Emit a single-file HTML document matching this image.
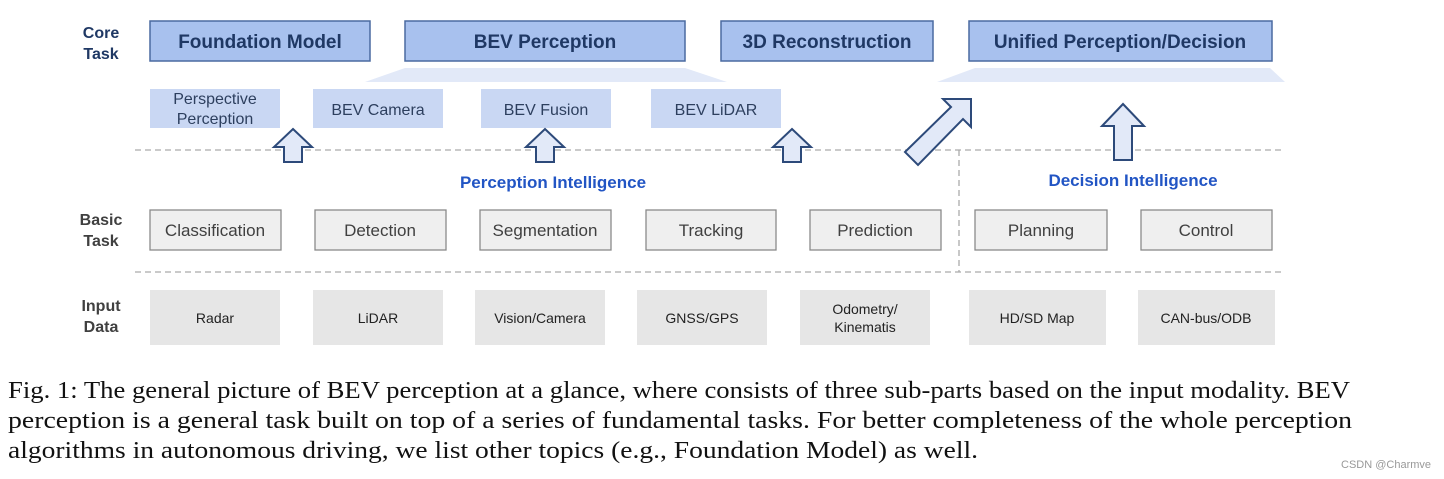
<!DOCTYPE html>
<html><head><meta charset="utf-8"><style>
html,body{margin:0;padding:0;background:#fff;width:1444px;height:479px;overflow:hidden}
.s{font-family:"Liberation Sans",Arial,sans-serif}
.c{font-family:"Liberation Serif",serif}
</style></head><body>
<svg width="1444" height="479" viewBox="0 0 1444 479" xmlns="http://www.w3.org/2000/svg">
<g class="s" font-weight="bold" font-size="16" fill="#1f3864" text-anchor="middle">
<text x="101" y="38">Core</text><text x="101" y="59">Task</text>
</g>
<g class="s" font-weight="bold" font-size="16" fill="#404040" text-anchor="middle">
<text x="101" y="225">Basic</text><text x="101" y="246">Task</text>
<text x="101" y="311">Input</text><text x="101" y="332">Data</text>
</g>
<g fill="#a8c1ee" stroke="#4a6aa0" stroke-width="1.5">
<rect x="150" y="21" width="220" height="40"/>
<rect x="405" y="21" width="280" height="40"/>
<rect x="721" y="21" width="212" height="40"/>
<rect x="969" y="21" width="303" height="40"/>
</g>
<g class="s" font-weight="bold" font-size="19" fill="#1f3864" text-anchor="middle">
<text x="260" y="48">Foundation Model</text>
<text x="545" y="48">BEV Perception</text>
<text x="827" y="48">3D Reconstruction</text>
<text x="1120" y="48">Unified Perception/Decision</text>
</g>
<polygon points="405,68 685,68 727,82 365,82" fill="#e2e9f8"/>
<polygon points="975,68 1270,68 1285,82 937,82" fill="#e2e9f8"/>
<g fill="#c9d7f3">
<rect x="150" y="89" width="130" height="39"/>
<rect x="313" y="89" width="130" height="39"/>
<rect x="481" y="89" width="130" height="39"/>
<rect x="651" y="89" width="130" height="39"/>
</g>
<g class="s" font-size="16" fill="#2d3f5e" text-anchor="middle">
<text x="215" y="104">Perspective</text><text x="215" y="124">Perception</text>
<text x="378" y="115">BEV Camera</text>
<text x="546" y="115">BEV Fusion</text>
<text x="716" y="115">BEV LiDAR</text>
</g>
<g stroke="#aaa" stroke-width="1.3" stroke-dasharray="6,4" fill="none">
<line x1="135" y1="150" x2="1282" y2="150"/>
<line x1="135" y1="272" x2="1282" y2="272"/>
<line x1="959" y1="150" x2="959" y2="272"/>
</g>
<g fill="#e2e9f8" stroke="#2d4a7a" stroke-width="2">
<polygon points="293,129 312,147 302,147 302,162 284,162 284,147 274,147"/>
<polygon points="545,129 564,147 554,147 554,162 536,162 536,147 526,147"/>
<polygon points="792,129 811,147 801,147 801,162 783,162 783,147 773,147"/>
<polygon points="1123,104 1144,126 1132,126 1132,160 1114,160 1114,126 1102,126"/>
<polygon points="905,152 951,107 943,99 971,99 971,127 963,119 918,165"/>
</g>
<g class="s" font-weight="bold" font-size="17" fill="#2255c4" text-anchor="middle">
<text x="553" y="188">Perception Intelligence</text>
<text x="1133" y="186">Decision Intelligence</text>
</g>
<g fill="#efefef" stroke="#8a8a8a" stroke-width="1.3">
<rect x="150" y="210" width="131" height="40"/>
<rect x="315" y="210" width="131" height="40"/>
<rect x="480" y="210" width="131" height="40"/>
<rect x="646" y="210" width="130" height="40"/>
<rect x="810" y="210" width="131" height="40"/>
<rect x="975" y="210" width="132" height="40"/>
<rect x="1141" y="210" width="131" height="40"/>
</g>
<g class="s" font-size="17" fill="#404040" text-anchor="middle">
<text x="215" y="236">Classification</text>
<text x="380" y="236">Detection</text>
<text x="545" y="236">Segmentation</text>
<text x="711" y="236">Tracking</text>
<text x="875" y="236">Prediction</text>
<text x="1041" y="236">Planning</text>
<text x="1206" y="236">Control</text>
</g>
<g fill="#e6e6e6">
<rect x="150" y="290" width="130" height="55"/>
<rect x="313" y="290" width="130" height="55"/>
<rect x="475" y="290" width="130" height="55"/>
<rect x="637" y="290" width="130" height="55"/>
<rect x="800" y="290" width="130" height="55"/>
<rect x="969" y="290" width="137" height="55"/>
<rect x="1138" y="290" width="137" height="55"/>
</g>
<g class="s" font-size="14" fill="#222" text-anchor="middle">
<text x="215" y="323">Radar</text>
<text x="378" y="323">LiDAR</text>
<text x="540" y="323">Vision/Camera</text>
<text x="702" y="323">GNSS/GPS</text>
<text x="865" y="314">Odometry/</text><text x="865" y="332">Kinematis</text>
<text x="1037" y="323">HD/SD Map</text>
<text x="1206" y="323">CAN-bus/ODB</text>
</g>
<g class="c" font-size="24" fill="#111">
<text x="8" y="398" textLength="1342" lengthAdjust="spacingAndGlyphs">Fig. 1: The general picture of BEV perception at a glance, where consists of three sub-parts based on the input modality. BEV</text>
<text x="8" y="428" textLength="1344" lengthAdjust="spacingAndGlyphs">perception is a general task built on top of a series of fundamental tasks. For better completeness of the whole perception</text>
<text x="8" y="458" textLength="970" lengthAdjust="spacingAndGlyphs">algorithms in autonomous driving, we list other topics (e.g., Foundation Model) as well.</text>
</g>
<text class="s" x="1341" y="468" font-size="11" fill="#999">CSDN @Charmve</text>
</svg>
</body></html>
